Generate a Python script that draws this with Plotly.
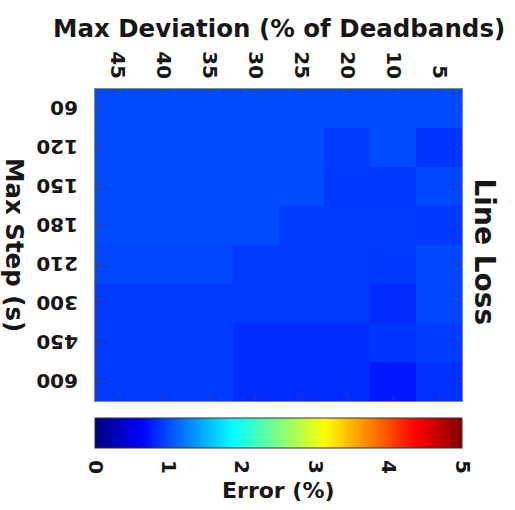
import plotly.graph_objects as go

# Data
max_deviation = ["45", "40", "35", "30", "25", "20", "10", "5"]
max_step = ["60", "120", "150", "180", "210", "300", "450", "600"]
error_60 = [0.99, 0.99, 0.99, 0.99, 0.99, 0.99, 0.99, 0.99]
error_120 = [0.99, 0.99, 0.99, 0.99, 0.99, 0.92, 0.99, 0.88]
error_150 = [0.99, 0.99, 0.99, 0.99, 0.99, 0.90, 0.90, 0.98]
error_180 = [0.99, 0.99, 0.99, 0.99, 0.92, 0.92, 0.92, 0.90]
error_210 = [0.97, 0.97, 0.97, 0.91, 0.91, 0.91, 0.90, 0.98]
error_300 = [0.91, 0.91, 0.91, 0.91, 0.91, 0.91, 0.83, 0.97]
error_450 = [0.91, 0.91, 0.91, 0.84, 0.84, 0.84, 0.88, 0.92]
error_600 = [0.91, 0.91, 0.91, 0.84, 0.84, 0.84, 0.74, 0.86]
cbar_ticks = [0, 1, 2, 3, 4, 5]

z = [error_60, error_120, error_150, error_180, error_210, error_300, error_450, error_600]

jet = [
    [0.0, "rgb(0,0,128)"],
    [0.125, "rgb(0,0,255)"],
    [0.375, "rgb(0,255,255)"],
    [0.625, "rgb(255,255,0)"],
    [0.875, "rgb(255,0,0)"],
    [1.0, "rgb(128,0,0)"],
]

FONT = "DejaVu Sans"
TXT = "#161616"

fig = go.Figure(
    go.Heatmap(
        z=z,
        x=max_deviation,
        y=max_step,
        zmin=0,
        zmax=5,
        colorscale=jet,
        colorbar=dict(
            orientation="h",
            x=0.5,
            xanchor="center",
            y=-0.0545,
            yanchor="top",
            len=1.0,
            lenmode="fraction",
            thickness=30,
            xpad=0,
            ypad=0,
            outlinecolor="#333333",
            outlinewidth=1,
            ticks="outside",
            ticklen=8,
            tickcolor="rgba(0,0,0,0)",
            tickvals=cbar_ticks,
            ticktext=[str(t) for t in cbar_ticks],
            tickangle=90,
            tickfont=dict(family=FONT, size=20, color=TXT, weight="bold"),
        ),
    )
)

axis_common = dict(
    type="category",
    showgrid=False,
    zeroline=False,
    showline=True,
    linecolor="#8a8a8a",
    linewidth=1,
    mirror="ticks",
    ticks="inside",
    ticklen=5,
    tickcolor="#444444",
)

fig.update_xaxes(
    side="top",
    tickangle=90,
    ticklabelstandoff=2,
    range=[-0.5, len(max_deviation) - 0.5],
    autorange=False,
    tickfont=dict(family=FONT, size=20, color=TXT, weight="bold"),
    **axis_common,
)
fig.update_yaxes(
    range=[len(max_step) - 0.5, -0.5],
    autorange=False,
    tickangle=180,
    ticklabelposition="inside",
    ticklabelstandoff=-21,
    ticklabelshift=-5,
    tickfont=dict(family=FONT, size=20, color=TXT, weight="bold"),
    **axis_common,
)

fig.update_layout(
    width=515,
    height=510,
    autosize=False,
    margin=dict(l=95, r=53, t=89, b=109),
    paper_bgcolor="white",
    plot_bgcolor="white",
    annotations=[
        dict(
            text="Max Deviation (% of Deadbands)",
            xref="paper", yref="paper",
            x=0.5, y=1.195,
            xanchor="center", yanchor="middle",
            showarrow=False,
            font=dict(family=FONT, size=24.5, color=TXT, weight="bold"),
        ),
        dict(
            text="Max Step (s)",
            xref="paper", yref="paper",
            x=-0.218, y=0.5,
            xanchor="center", yanchor="middle",
            textangle=90,
            showarrow=False,
            font=dict(family=FONT, size=24.5, color=TXT, weight="bold"),
        ),
        dict(
            text="Line Loss",
            xref="paper", yref="paper",
            x=1.06, y=0.479,
            xanchor="center", yanchor="middle",
            textangle=90,
            showarrow=False,
            font=dict(family=FONT, size=28, color=TXT, weight="bold"),
        ),
        dict(
            text="Error (%)",
            xref="paper", yref="paper",
            x=(278 - 95) / 367, y=(401 - 491) / 312,
            xanchor="center", yanchor="middle",
            showarrow=False,
            font=dict(family=FONT, size=22, color=TXT, weight="bold"),
        ),
    ],
)

fig.write_html(
    "out.html",
    config={"displayModeBar": False},
    post_script="document.body.style.margin='0';",
)
